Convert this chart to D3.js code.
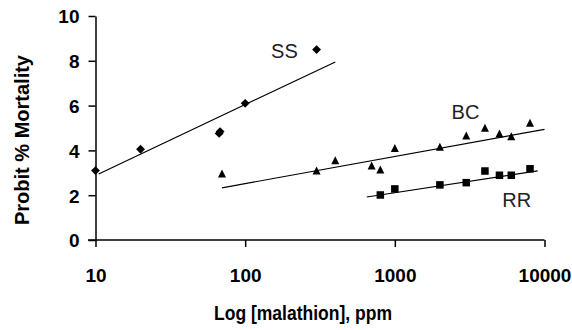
<!DOCTYPE html>
<html>
<head>
<meta charset="utf-8">
<script src="https://cdn.jsdelivr.net/npm/d3@7"></script>
<style>
  body { margin: 0; background: #fff; }
  text { font-family: "Liberation Sans", Arial, sans-serif; }
</style>
</head>
<body>
<svg id="chart" width="572" height="330"></svg>
<script>
// data
const ssPoints = [[10, 3.1], [20, 4.05], [67, 4.76], [68, 4.84], [100, 6.1], [300, 8.5]];
const bcPoints = [[70, 2.95], [300, 3.08], [400, 3.54], [700, 3.3], [800, 3.13], [1000, 4.09],
                  [2000, 4.14], [3000, 4.64], [4000, 4.99], [5000, 4.73], [6000, 4.61], [8000, 5.21]];
const rrPoints = [[800, 2.01], [1000, 2.28], [2000, 2.46], [3000, 2.56], [4000, 3.08],
                  [5000, 2.89], [6000, 2.89], [8000, 3.18]];

// trendline endpoints
const ssFit = [[10.5, 2.95], [400, 7.95]];
const bcFit = [[70, 2.33], [10000, 4.94]];
const rrFit = [[650, 1.92], [9000, 3.09]];

const xTicks = [10, 100, 1000, 10000];
const yTicks = [0, 2, 4, 6, 8, 10];

const seriesLabels = [
  { text: "SS", at: [183, 8.12] },
  { text: "BC", at: [2965, 5.4] },
  { text: "RR", at: [6520, 1.47] }
];

const svg = d3.select("#chart");

const x = d3.scaleLog().domain([10, 10000]).range([95.5, 544.5]);
const y = d3.scaleLinear().domain([0, 10]).range([240, 16]);

// axes
const xAxis = svg.append("g")
  .attr("transform", "translate(0,240)")
  .call(d3.axisBottom(x).tickValues(xTicks).tickSize(7).tickSizeOuter(0).tickFormat(d3.format("d")));
const yAxis = svg.append("g")
  .attr("transform", "translate(95.5,0)")
  .call(d3.axisLeft(y).tickValues(yTicks).tickSize(7).tickSizeOuter(0));

[xAxis, yAxis].forEach(a => {
  a.select(".domain").attr("stroke", "#000").attr("stroke-width", 1.5);
  a.selectAll(".tick line").attr("stroke", "#000").attr("stroke-width", 1.5);
  a.selectAll(".tick text")
    .attr("font-family", "'Liberation Sans', Arial, sans-serif")
    .attr("font-size", 19).attr("font-weight", "bold").attr("fill", "#000");
});
xAxis.selectAll(".tick text").attr("y", 0).attr("dy", null).attr("transform", "translate(0,42)");
yAxis.selectAll(".tick text").attr("x", -16).attr("dy", "0.36em");
// x axis line runs a little left of the y axis, like the original
xAxis.select(".domain").attr("d", `M88,0H${x(10000)}`);

// axis titles
svg.append("text")
  .attr("x", 303).attr("y", 320)
  .attr("text-anchor", "middle")
  .attr("font-size", 20).attr("font-weight", "bold")
  .attr("textLength", 178).attr("lengthAdjust", "spacingAndGlyphs")
  .text("Log [malathion], ppm");

svg.append("text")
  .attr("transform", "translate(29,140) rotate(-90)")
  .attr("text-anchor", "middle")
  .attr("font-size", 21).attr("font-weight", "bold")
  .attr("textLength", 170).attr("lengthAdjust", "spacingAndGlyphs")
  .text("Probit % Mortality");

// trendlines
const line = d3.line().x(d => x(d[0])).y(d => y(d[1]));
[ssFit, bcFit, rrFit].forEach(fit => {
  svg.append("path").attr("d", line(fit))
    .attr("fill", "none").attr("stroke", "#000").attr("stroke-width", 1.2);
});

// markers
svg.append("g").selectAll("path").data(ssPoints).join("path")
  .attr("transform", d => `translate(${x(d[0])},${y(d[1])})`)
  .attr("d", d3.symbol(d3.symbolDiamond2, 50))
  .attr("fill", "#000");

svg.append("g").selectAll("path").data(bcPoints).join("path")
  .attr("transform", d => `translate(${x(d[0])},${y(d[1])})`)
  .attr("d", "M0,-4.5L4,3.5L-4,3.5Z")
  .attr("fill", "#000");

svg.append("g").selectAll("rect").data(rrPoints).join("rect")
  .attr("x", d => x(d[0]) - 3.75).attr("y", d => y(d[1]) - 3.75)
  .attr("width", 7.5).attr("height", 7.5)
  .attr("fill", "#000");

// series labels
svg.append("g").selectAll("text").data(seriesLabels).join("text")
  .attr("x", d => x(d.at[0])).attr("y", d => y(d.at[1]))
  .attr("text-anchor", "middle")
  .attr("font-size", 20).attr("fill", "#222")
  .text(d => d.text);
</script>
</body>
</html>
